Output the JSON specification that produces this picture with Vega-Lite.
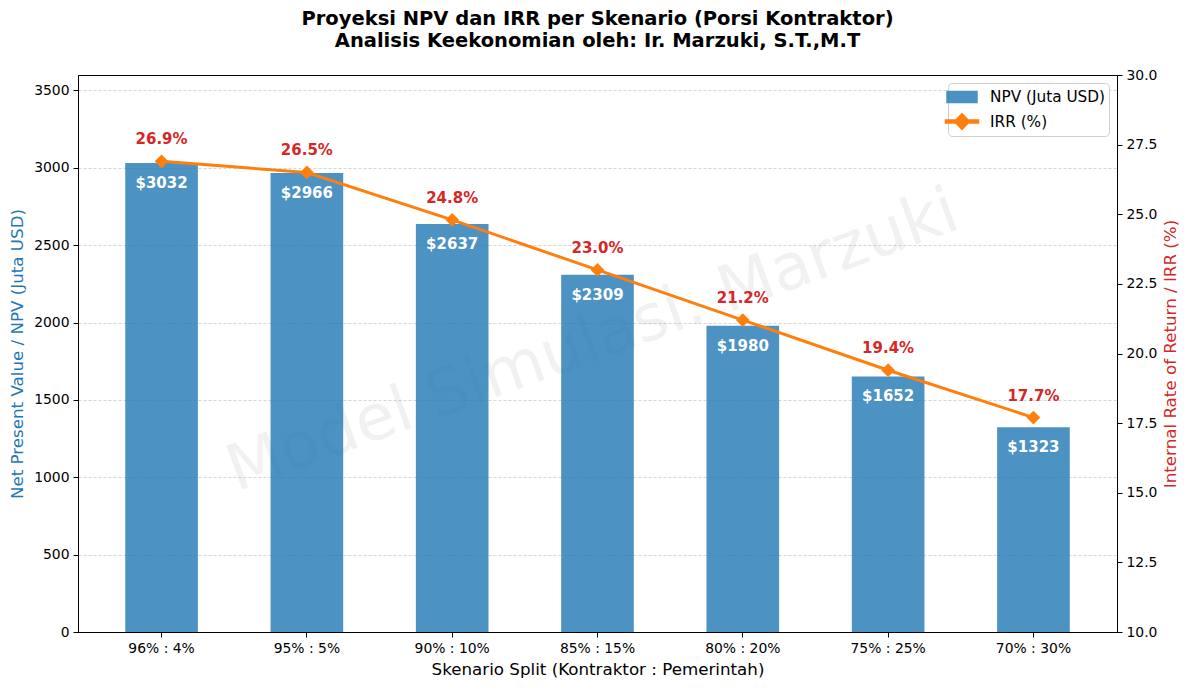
{
  "$schema": "https://vega.github.io/schema/vega-lite/v6.json",
  "width": 1039,
  "height": 557,
  "autosize": {"type": "none"},
  "padding": {"left": 78, "top": 75, "right": 72, "bottom": 58},
  "config": {
    "font": "DejaVu Sans",
    "view": {"stroke": "black", "strokeWidth": 1},
    "axis": {
      "domainColor": "black",
      "tickColor": "black",
      "tickSize": 5,
      "labelColor": "black",
      "labelFontSize": 13.9,
      "labelPadding": 4,
      "titleFontSize": 16.7,
      "titleFontWeight": "normal",
      "titleColor": "black"
    }
  },
  "title": {
    "text": ["Proyeksi NPV dan IRR per Skenario (Porsi Kontraktor)", "Analisis Keekonomian oleh: Ir. Marzuki, S.T.,M.T"],
    "fontSize": 19.5,
    "fontWeight": "bold",
    "color": "black",
    "anchor": "middle",
    "lineHeight": 22,
    "offset": 17
  },
  "data": {
    "values": [
      {"skenario": "96% : 4%", "npv": 3032, "irr": 26.9, "irr_label": "26.9%"},
      {"skenario": "95% : 5%", "npv": 2966, "irr": 26.5, "irr_label": "26.5%"},
      {"skenario": "90% : 10%", "npv": 2637, "irr": 24.8, "irr_label": "24.8%"},
      {"skenario": "85% : 15%", "npv": 2309, "irr": 23.0, "irr_label": "23.0%"},
      {"skenario": "80% : 20%", "npv": 1980, "irr": 21.2, "irr_label": "21.2%"},
      {"skenario": "75% : 25%", "npv": 1652, "irr": 19.4, "irr_label": "19.4%"},
      {"skenario": "70% : 30%", "npv": 1323, "irr": 17.7, "irr_label": "17.7%"}
    ]
  },
  "encoding": {
    "x": {
      "field": "skenario",
      "type": "nominal",
      "sort": null,
      "scale": {
        "domain": ["96% : 4%", "95% : 5%", "90% : 10%", "85% : 15%", "80% : 20%", "75% : 25%", "70% : 30%"],
        "paddingInner": 0.5,
        "paddingOuter": 0.325
      },
      "axis": {"labelAngle": 0, "titlePadding": 7},
      "title": "Skenario Split (Kontraktor : Pemerintah)"
    }
  },
  "layer": [
    {
      "encoding": {
        "y": {
          "type": "quantitative",
          "scale": {"domain": [0, 3600], "nice": false},
          "axis": {
            "orient": "left",
            "values": [0, 500, 1000, 1500, 2000, 2500, 3000, 3500],
            "format": "d",
            "grid": true,
            "gridColor": "#cccccc",
            "gridDash": [3, 2],
            "gridWidth": 0.8,
            "titleColor": "#1f77b4",
            "titlePadding": 7
          },
          "title": "Net Present Value / NPV (Juta USD)"
        }
      },
      "layer": [
        {
          "data": {"values": [{"skenario": "85% : 15%", "npv": 1887, "wm": "Model Simulasi. Marzuki"}]},
          "mark": {"type": "text", "fontSize": 64, "angle": 340, "align": "center", "baseline": "middle", "fill": "#808080", "opacity": 0.1, "dx": -5},
          "encoding": {
            "y": {"field": "npv", "type": "quantitative"},
            "text": {"field": "wm"}
          }
        },
        {
          "mark": {"type": "bar", "opacity": 0.8},
          "encoding": {
            "y": {"field": "npv", "type": "quantitative"},
            "color": {
              "datum": "NPV (Juta USD)",
              "scale": {"domain": ["NPV (Juta USD)", "IRR (%)"], "range": ["#1f77b4", "#ff7f0e"]},
              "legend": {
                "title": null,
                "orient": "top-right",
                "offset": 8,
                "symbolSize": 400,
                "labelFontSize": 15.3,
                "labelColor": "black",
                "labelOffset": 17,
                "rowPadding": 4.5,
                "padding": 3,
                "fillColor": "white",
                "strokeColor": "#d0d0d0",
                "cornerRadius": 4,
                "encoding": {
                  "symbols": {
                    "shape": {
                      "condition": {"test": "datum.value === 'IRR (%)'", "value": "M-1.65,-0.15L1.65,-0.15L1.65,0.15L-1.65,0.15Z M0,-0.78L0.75,0L0,0.78L-0.75,0Z"},
                      "value": "M-1.5,-0.55L1.5,-0.55L1.5,0.55L-1.5,0.55Z"
                    },
                    "opacity": {
                      "condition": {"test": "datum.value === 'IRR (%)'", "value": 1},
                      "value": 0.8
                    }
                  }
                }
              }
            }
          }
        },
        {
          "mark": {"type": "text", "color": "white", "fontSize": 15, "fontWeight": "bold", "baseline": "middle", "dy": 20},
          "encoding": {
            "y": {"field": "npv", "type": "quantitative"},
            "text": {"field": "npv", "format": "$d"}
          }
        }
      ]
    },
    {
      "encoding": {
        "y": {
          "type": "quantitative",
          "scale": {"domain": [10, 30], "nice": false},
          "axis": {
            "orient": "right",
            "values": [10, 12.5, 15, 17.5, 20, 22.5, 25, 27.5, 30],
            "format": ".1f",
            "grid": false,
            "titleColor": "#d62728",
            "titleAngle": 270,
            "titleBaseline": "top",
            "titlePadding": 6
          },
          "title": "Internal Rate of Return / IRR (%)"
        }
      },
      "layer": [
        {
          "mark": {
            "type": "line",
            "strokeWidth": 3,
            "point": {"shape": "diamond", "size": 190, "filled": true, "fill": "#ff7f0e", "opacity": 1}
          },
          "encoding": {
            "y": {"field": "irr", "type": "quantitative"},
            "color": {"datum": "IRR (%)"}
          }
        },
        {
          "mark": {"type": "text", "color": "#d62728", "fontSize": 15, "fontWeight": "bold", "baseline": "middle", "dy": -22},
          "encoding": {
            "y": {"field": "irr", "type": "quantitative"},
            "text": {"field": "irr_label"}
          }
        }
      ]
    }
  ],
  "resolve": {"scale": {"y": "independent"}}
}
